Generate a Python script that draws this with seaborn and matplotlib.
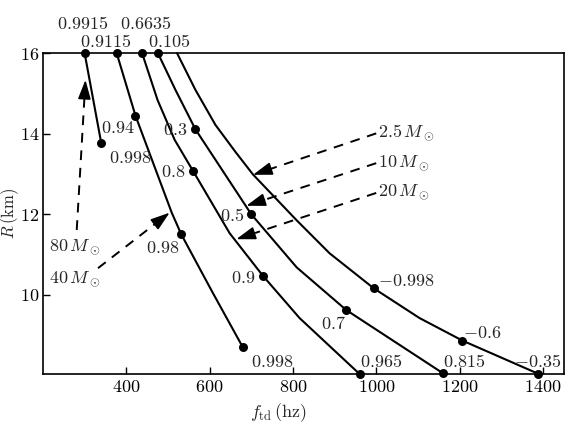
import matplotlib
matplotlib.use("Agg")
import matplotlib.pyplot as plt
import seaborn as sns
import pandas as pd

# ---- data ----
# curve A (80 Msun)
fA = [300, 340]
RA = [16.0, 13.76]
# curve B (40 Msun)
fB = [377, 422, 509, 532, 608, 680]
RB = [16.0, 14.45, 12.04, 11.50, 10.04, 8.69]
# curve C (20 Msun)
fC = [438, 475, 516, 560, 648, 728, 816, 960]
RC = [16.0, 14.84, 13.85, 13.08, 11.53, 10.47, 9.42, 8.03]
# curve D (10 Msun)
fD = [476, 518, 566, 700, 809, 928, 1160]
RD = [16.0, 15.09, 14.11, 12.0, 10.68, 9.62, 8.05]
# curve E (2.5 Msun)
fE = [522, 566, 614, 662, 704, 808, 888, 994, 1104, 1207, 1388]
RE = [16.0, 15.09, 14.22, 13.55, 12.99, 11.86, 11.03, 10.16, 9.42, 8.86, 8.04]

# marked points and their spin labels
mark_f = [300, 340, 377, 422, 532, 680, 438, 560, 728, 960,
          476, 566, 700, 928, 1160, 994, 1207, 1388]
mark_R = [16.0, 13.76, 16.0, 14.45, 11.50, 8.69, 16.0, 13.08, 10.47, 8.03,
          16.0, 14.11, 12.0, 9.62, 8.05, 10.16, 8.86, 8.04]
lab_text = ["0.9915", "0.998", "0.9115", "0.94", "0.98", "0.998", "0.6635", "0.8",
            "0.9", "0.965", "0.105", "0.3", "0.5", "0.7", "0.815",
            "-0.998", "-0.6", "-0.35"]
lab_f = [295, 410, 351, 379, 488, 750, 446, 513, 680, 1012,
         502, 518, 655, 896, 1212, 1072, 1254, 1388]
lab_R = [16.75, 13.41, 16.29, 14.14, 11.15, 8.34, 16.75, 13.06, 10.42, 8.34,
         16.29, 14.10, 11.96, 9.29, 8.34, 10.33, 9.04, 8.34]

# mass annotations
mass_text = ["2.5", "10", "20", "80", "40"]
mass_lab_f = [1004, 1004, 1004, 214, 214]
mass_lab_R = [14.03, 13.27, 12.55, 11.17, 10.39]
arrow_tail_f = [1000, 1000, 1000, 281, 332]
arrow_tail_R = [14.01, 13.27, 12.53, 11.61, 10.66]
arrow_tip_f = [704, 688, 664, 302, 504]
arrow_tip_R = [12.98, 12.21, 11.38, 15.34, 12.04]

xticks = [400, 600, 800, 1000, 1200, 1400]
yticks = [10, 12, 14, 16]

# ---- style ----
sns.set_theme(style="ticks")
plt.rcParams.update({
    "font.family": "serif",
    "font.serif": ["cmr10", "DejaVu Serif"],
    "mathtext.fontset": "cm",
    "axes.unicode_minus": False,
    "axes.formatter.use_mathtext": True,
    "font.size": 13,
    "axes.edgecolor": "black",
    "axes.linewidth": 1.2,
})

fig = plt.figure(figsize=(5.68, 4.24), dpi=100)
ax = fig.add_axes([0.0757, 0.1179, 0.9167, 0.7564])

curves = [(fA, RA), (fB, RB), (fC, RC), (fD, RD), (fE, RE)]
for f, R in curves:
    df = pd.DataFrame({"f": f, "R": R})
    sns.lineplot(data=df, x="f", y="R", sort=False, color="black", lw=1.5,
                 ax=ax, clip_on=False)

mdf = pd.DataFrame({"f": mark_f, "R": mark_R})
sns.scatterplot(data=mdf, x="f", y="R", color="black", s=42, edgecolor="black",
                linewidth=0, ax=ax, clip_on=False, zorder=5)

for t, fx, ry in zip(lab_text, lab_f, lab_R):
    ax.text(fx, ry, "$" + t + "$", ha="center", va="center", fontsize=13,
            clip_on=False)

for t, lf, lr, tf, tr, hf, hr in zip(mass_text, mass_lab_f, mass_lab_R,
                                      arrow_tail_f, arrow_tail_R,
                                      arrow_tip_f, arrow_tip_R):
    ax.text(lf, lr, r"$" + t + r"\,M_\odot$", ha="left", va="center",
            fontsize=13)
    # dashed shaft ending near the head, then a solid head
    frac = 0.86 if t not in ("80",) else 0.9
    mf = tf + (hf - tf) * frac
    mr = tr + (hr - tr) * frac
    ax.plot([tf, mf], [tr, mr], color="black", lw=1.4, ls=(0, (5, 4)))
    ax.annotate("", xy=(hf, hr), xytext=(mf, mr),
                arrowprops=dict(arrowstyle="-|>,head_length=0.9,head_width=0.3",
                                color="black", lw=1.2, shrinkA=0, shrinkB=0))

ax.set_xlim(200, 1450)
ax.set_ylim(8.03, 16)
ax.set_xticks(xticks)
ax.set_yticks(yticks)
ax.tick_params(direction="in", length=5, width=1, labelsize=13,
               top=False, right=False, colors="black")
ax.tick_params(axis="y", pad=2.5)
for s in ax.spines.values():
    s.set_visible(True)
    s.set_color("black")
    s.set_linewidth(1.2)

ax.set_xlabel(r"$f_{\rm td}\,(\mathrm{hz})$", fontsize=13)
ax.set_ylabel(r"$R\,(\mathrm{km})$", fontsize=12)
ax.xaxis.set_label_coords(0.453, -0.085)
ax.yaxis.set_label_coords(-0.043, 0.5)

fig.savefig("out.png", dpi=100)
